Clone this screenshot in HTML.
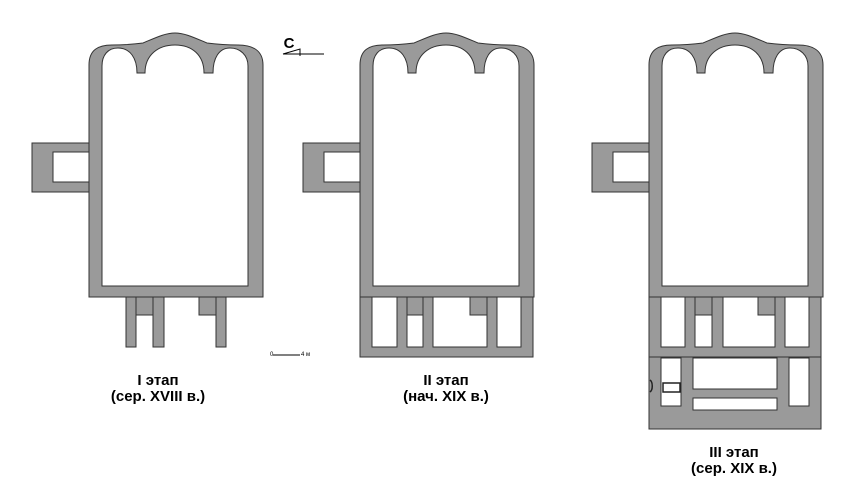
<!DOCTYPE html>
<html><head><meta charset="utf-8"><style>
html,body{margin:0;padding:0;background:#fff;}
svg{display:block}
.t{font-family:"Liberation Sans",sans-serif;font-weight:bold;font-size:15px;fill:#000;text-anchor:middle}
</style></head><body>
<svg width="850" height="493" viewBox="0 0 850 493" xmlns="http://www.w3.org/2000/svg">
<defs>
<g id="b" fill="#9a9a9a" stroke="#333" stroke-width="1">
  <path fill-rule="evenodd" d="M89,297 L89,65 C89,50 98,45 112,45 C125,45 135,44 143,43 C155,38 165,33 175,33 C185,33 195,38 207,43 C215,44 225,45 238,45 C252,45 263,50 263,65 L263,297 Z
  M102,286 L248,286 L248,66 C248,55 240,48 230,48 C219,48 213,58 213,73 L204,73 C204,55 192,45 175,45 C158,45 145,55 145,73 L137,73 C137,58 130,48 118,48 C108,48 102,55 102,66 Z"/>
  <path fill-rule="evenodd" d="M32,143 L89,143 L89,192 L32,192 Z M53,152 L89,152 L89,182 L53,182 Z"/>
</g>
</defs>
<use href="#b"/>
<use href="#b" transform="translate(271,0)"/>
<use href="#b" transform="translate(560,0)"/>

<g fill="#9a9a9a" stroke="#333" stroke-width="1">
  <rect x="126" y="297" width="10" height="50"/>
  <rect x="153" y="297" width="11" height="50"/>
  <rect x="136" y="297" width="17" height="18"/>
  <rect x="216" y="297" width="10" height="50"/>
  <rect x="199" y="297" width="17" height="18"/>

  <path fill-rule="evenodd" d="M360,297 L533,297 L533,357 L360,357 Z
   M372,297 L397,297 L397,347 L372,347 Z
   M407,315 L423,315 L423,347 L407,347 Z
   M433,297 L470,297 L470,315 L487,315 L487,347 L433,347 Z
   M497,297 L521,297 L521,347 L497,347 Z"/>
  <line x1="397" y1="297" x2="397" y2="347"/><line x1="407" y1="297" x2="407" y2="347"/>
  <line x1="423" y1="297" x2="423" y2="347"/><line x1="433" y1="297" x2="433" y2="347"/>
  <line x1="487" y1="297" x2="487" y2="347"/><line x1="497" y1="297" x2="497" y2="347"/>

  <path fill-rule="evenodd" d="M649,297 L821,297 L821,429 L649,429 Z
   M661,297 L685,297 L685,347 L661,347 Z
   M695,315 L712,315 L712,347 L695,347 Z
   M723,297 L758,297 L758,315 L775,315 L775,347 L723,347 Z
   M785,297 L809,297 L809,347 L785,347 Z
   M661,358 L681,358 L681,406 L661,406 Z
   M693,358 L777,358 L777,389 L693,389 Z
   M693,398 L777,398 L777,410 L693,410 Z
   M789,358 L809,358 L809,406 L789,406 Z"/>
  <line x1="685" y1="297" x2="685" y2="347"/><line x1="695" y1="297" x2="695" y2="347"/>
  <line x1="712" y1="297" x2="712" y2="347"/><line x1="723" y1="297" x2="723" y2="347"/>
  <line x1="775" y1="297" x2="775" y2="347"/><line x1="785" y1="297" x2="785" y2="347"/>
  <line x1="649" y1="357" x2="821" y2="357"/>
  <line x1="360" y1="297" x2="533" y2="297"/>
  <line x1="649" y1="297" x2="821" y2="297"/>
</g>
<rect x="663" y="383" width="17" height="9" fill="#fff" stroke="#222" stroke-width="1.5"/>
<path d="M650,380 C653,382 653,390 650,392" fill="none" stroke="#222" stroke-width="1.5"/>

<text x="289" y="48" class="t" style="font-size:15px">С</text>
<line x1="283" y1="54" x2="324" y2="54" stroke="#000" stroke-width="1"/>
<path d="M283,54 L300,49 L300,56" fill="none" stroke="#000" stroke-width="1"/>

<text x="270" y="356" font-family="Liberation Sans,sans-serif" font-size="6" fill="#000">0</text>
<line x1="273" y1="355" x2="300" y2="355" stroke="#000" stroke-width="1"/>
<text x="301" y="356" font-family="Liberation Sans,sans-serif" font-size="6" fill="#000">4 м</text>

<text x="158" y="385" class="t">I этап</text>
<text x="158" y="401" class="t">(сер. XVIII в.)</text>
<text x="446" y="385" class="t">II этап</text>
<text x="446" y="401" class="t">(нач. XIX в.)</text>
<text x="734" y="457" class="t">III этап</text>
<text x="734" y="473" class="t">(сер. XIX в.)</text>
</svg>
</body></html>
